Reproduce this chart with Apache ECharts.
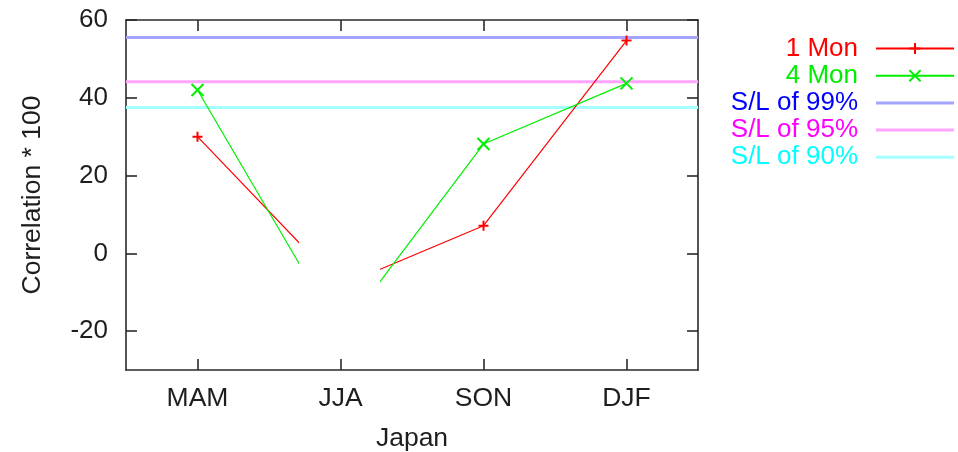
<!DOCTYPE html>
<html>
<head>
<meta charset="utf-8">
<script src="https://cdn.jsdelivr.net/npm/echarts@6/dist/echarts.min.js"></script>
<style>
  html, body { margin: 0; padding: 0; background: #fff; }
  #chart { width: 958px; height: 452px; }
</style>
</head>
<body>
<div id="chart"></div>
<script>
// Seasons along the x axis (positions 0..3)
const seasons = ['MAM', 'JJA', 'SON', 'DJF'];
const seasonPos = [0, 1, 2, 3];
const xRange = [-0.5, 3.5];

// Correlation * 100 for each lead time
const oneMon = [30, -8.4, 7.1, 54.7];
const fourMon = [42, -20.8, 28.1, 43.7];

// Significance levels
const sl99 = 55.5;
const sl95 = 44.1;
const sl90 = 37.5;

// Labelled y ticks
const yTicks = [-20, 0, 20, 40, 60];

// Stretch of the x axis where the curves are left blank
const blankSpan = [0.707, 1.278];

const FONT = "'Liberation Sans', Arial, Helvetica, sans-serif";
const AXIS_COLOR = '#2a2a2a';
const TEXT_COLOR = '#1e1e1e';
// thin bar used as the legend key of a plain level line
const LEVEL_ICON = 'path://M0,0L26,0L26,1L0,1Z';

const pairs = (vals) => seasonPos.map((x, i) => [x, vals[i]]);
const flat = (v) => xRange.map((x) => [x, v]);

const baseX = {
  type: 'value', min: xRange[0], max: xRange[1],
  axisLine: { show: true, onZero: false, lineStyle: { color: AXIS_COLOR, width: 1.6 } },
  axisTick: { show: true, inside: true, length: 11, customValues: seasonPos,
              lineStyle: { color: AXIS_COLOR, width: 1.6 } },
  splitLine: { show: false }
};
const baseY = {
  type: 'value', min: -30, max: 60,
  axisLine: { show: true, onZero: false, lineStyle: { color: AXIS_COLOR, width: 1.6 } },
  axisTick: { show: true, inside: true, length: 11, customValues: yTicks,
              lineStyle: { color: AXIS_COLOR, width: 1.6 } },
  splitLine: { show: false }
};

function blankPieces(color) {
  return [
    { lt: blankSpan[0], color: color },
    { gte: blankSpan[0], lte: blankSpan[1], color: 'rgba(0,0,0,0)' },
    { gt: blankSpan[1], color: color }
  ];
}

function levelSeries(name, value, color) {
  return {
    name: name, type: 'line', data: flat(value),
    symbol: 'none', silent: true,
    lineStyle: { color: color, width: 3 },
    itemStyle: { color: color }
  };
}

const chart = echarts.init(document.getElementById('chart'), null, { renderer: 'canvas' });

chart.setOption({
  animation: false,
  backgroundColor: '#fff',
  color: ['#a4a4ff', '#ffa4ff', '#a4ffff', '#ff0000', '#00ee00'],
  grid: { left: 126, right: 260, top: 20, bottom: 82, containLabel: false, outerBoundsMode: 'none' },
  xAxis: [
    Object.assign({}, baseX, {
      position: 'bottom',
      name: 'Japan', nameLocation: 'middle', nameGap: 55,
      nameTextStyle: { fontFamily: FONT, fontSize: 26.5, color: TEXT_COLOR },
      axisLabel: { show: true, customValues: seasonPos, margin: 15,
                   fontFamily: FONT, fontSize: 26.5, color: TEXT_COLOR,
                   formatter: (v) => seasons[Math.round(v)] }
    }),
    Object.assign({}, baseX, { position: 'top', axisLabel: { show: false } })
  ],
  yAxis: [
    Object.assign({}, baseY, {
      position: 'left',
      name: 'Correlation * 100', nameLocation: 'middle', nameGap: 80, nameRotate: 90,
      nameTextStyle: { fontFamily: FONT, fontSize: 26.5, color: TEXT_COLOR },
      axisLabel: { show: true, customValues: yTicks, margin: 18,
                   fontFamily: FONT, fontSize: 26, color: TEXT_COLOR }
    }),
    Object.assign({}, baseY, { position: 'right', axisLabel: { show: false } })
  ],
  visualMap: [
    { type: 'piecewise', show: false, seriesIndex: 3, dimension: 0, pieces: blankPieces('#ff0000') },
    { type: 'piecewise', show: false, seriesIndex: 4, dimension: 0, pieces: blankPieces('#00ee00') }
  ],
  legend: {
    orient: 'vertical', right: 3, top: 35.5, align: 'right', padding: 0,
    itemWidth: 78, itemHeight: 14, itemGap: 1.2,
    textStyle: { fontFamily: FONT, fontSize: 26, lineHeight: 25, padding: [0, 13, 0, 0] },
    data: [
      { name: '1 Mon', textStyle: { color: '#ff0000' } },
      { name: '4 Mon', textStyle: { color: '#00ee00' } },
      { name: 'S/L of 99%', icon: LEVEL_ICON, textStyle: { color: '#0000ff' } },
      { name: 'S/L of 95%', icon: LEVEL_ICON, textStyle: { color: '#ff00ff' } },
      { name: 'S/L of 90%', icon: LEVEL_ICON, textStyle: { color: '#00ffff' } }
    ]
  },
  series: [
    levelSeries('S/L of 99%', sl99, '#a4a4ff'),
    levelSeries('S/L of 95%', sl95, '#ffa4ff'),
    levelSeries('S/L of 90%', sl90, '#a4ffff'),
    {
      name: '1 Mon', type: 'line', data: pairs(oneMon),
      symbol: 'emptypath://M5,0L5,10M0,5L10,5', symbolSize: 10,
      lineStyle: { width: 1.2 },
      itemStyle: { color: '#ff0000', borderWidth: 1.2 }
    },
    {
      name: '4 Mon', type: 'line', data: pairs(fourMon),
      symbol: 'emptypath://M0,0L10,10M10,0L0,10', symbolSize: 12,
      lineStyle: { width: 1.2 },
      itemStyle: { color: '#00ee00', borderWidth: 1.2 }
    }
  ]
});
</script>
</body>
</html>
